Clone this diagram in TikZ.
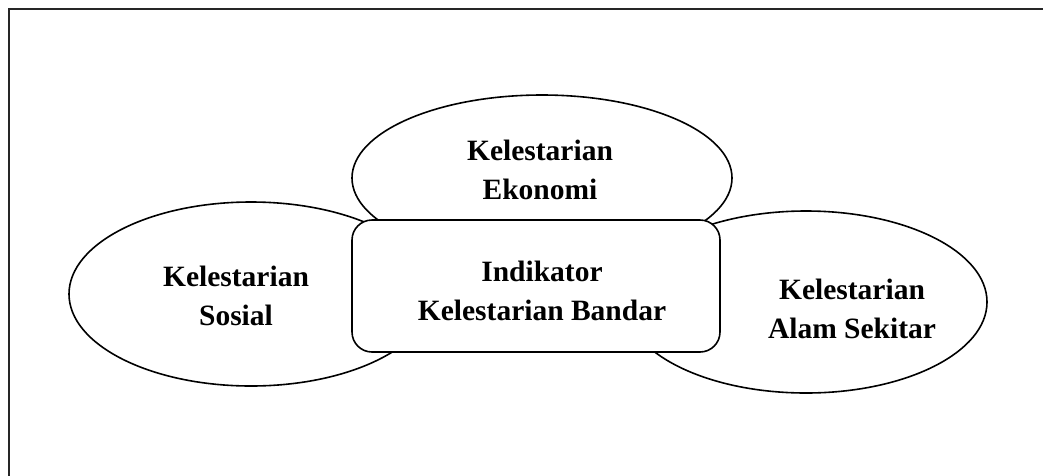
\documentclass[tikz,border=0pt]{standalone}
\usepackage{fontspec}
\setmainfont{Liberation Serif}
\usetikzlibrary{shapes.geometric}
\begin{document}
\begin{tikzpicture}[x=1pt,y=-1pt,
  oval/.style={ellipse,draw=black,fill=white,line width=1.6pt,inner sep=0pt},
  centrebox/.style={rectangle,rounded corners=20pt,draw=black,fill=white,line width=1.6pt,inner sep=0pt},
  label text/.style={font=\fontsize{29.5}{38.5}\selectfont\bfseries,align=center,inner sep=0pt}]
\useasboundingbox (0,0) rectangle (1043,475);
\draw[line width=2.6pt,color=black!85] (9,480) -- (9,9) -- (1050,9);
\node[oval,minimum width=364pt,minimum height=184pt] (sosial) at (251,294) {};
\node[oval,minimum width=362pt,minimum height=182pt] (alam) at (806,302) {};
\node[oval,minimum width=380pt,minimum height=166pt] (ekonomi) at (542,178) {};
\node[centrebox,minimum width=368pt,minimum height=132pt] (indikator) at (536,286) {};
\node[label text] (tekonomi) at (540,170) {Kelestarian\\Ekonomi};
\node[label text] (tsosial) at (236,296) {Kelestarian\\Sosial};
\node[label text] (tindikator) at (542,291) {Indikator\\Kelestarian Bandar};
\node[label text] (talam) at (852,309) {Kelestarian\\Alam Sekitar};
\end{tikzpicture}
\end{document}
